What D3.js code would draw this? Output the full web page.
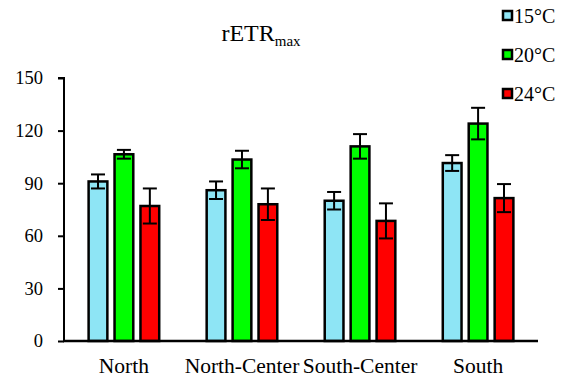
<!DOCTYPE html>
<html lang="en">
  <head>
    <meta charset="utf-8" />
    <title>rETRmax</title>
    <script src="https://d3js.org/d3.v7.min.js"></script>
    <style>
      body { margin: 0; background: #fff; }
      svg text { font-family: "Liberation Serif", "Times New Roman", serif; fill: #000; }
    </style>
  </head>
  <body>
    <div id="chart"></div>
    <script>
      // data
      const regions = ["North", "North-Center", "South-Center", "South"];
      const temps = ["15°C", "20°C", "24°C"];
      const mean15 = [91, 86, 80, 101.5];
      const err15 = [4, 5, 5, 4.5];
      const mean20 = [106.5, 103.5, 111, 124];
      const err20 = [2.5, 5, 7, 9];
      const mean24 = [77, 78, 68.5, 81.5];
      const err24 = [10, 9, 10, 8];
      const yTicks = [0, 30, 60, 90, 120, 150];
      const colors = ["#8ee5f5", "#00ff00", "#ff0000"];

      const means = [mean15, mean20, mean24];
      const errs = [err15, err20, err24];

      const cW = 566, cH = 381;
      const pLeft = 64, pRight = 538, pTop = 78, pBottom = 341;
      const serif = "'Liberation Serif', 'Times New Roman', serif";

      const svg = d3.select("#chart").append("svg")
        .attr("width", cW).attr("height", cH)
        .attr("font-family", serif);

      const x0 = d3.scaleBand().domain(regions).range([pLeft, pRight])
        .paddingInner(0.385).paddingOuter(0.2);
      const x1 = d3.scaleBand().domain(temps).range([0, x0.bandwidth()])
        .paddingInner(0.2);
      const y = d3.scaleLinear().domain([0, 150]).range([pBottom, pTop]);

      // title
      const title = svg.append("text")
        .attr("x", 261).attr("y", 41)
        .attr("text-anchor", "middle")
        .attr("font-size", 24);
      title.append("tspan").text("rETR");
      title.append("tspan").attr("dy", 5).attr("font-size", 15).text("max");

      // y axis
      const yAxis = svg.append("g")
        .attr("transform", `translate(${pLeft},0)`)
        .call(d3.axisLeft(y).tickValues(yTicks).tickSize(6).tickPadding(15))
        .attr("font-family", serif)
        .attr("font-size", 18.5);
      yAxis.select(".domain").attr("d", `M-6,${pTop}H0V${pBottom}`).attr("stroke-width", 2);
      yAxis.selectAll(".tick line").attr("stroke-width", 2);

      // bars
      const rows = [];
      regions.forEach((r, i) => {
        temps.forEach((t, j) => {
          rows.push({ region: r, temp: t, j: j, v: means[j][i], e: errs[j][i] });
        });
      });

      const g = svg.append("g");
      g.selectAll("rect").data(rows).enter().append("rect")
        .attr("x", d => x0(d.region) + x1(d.temp) + 1)
        .attr("y", d => y(d.v))
        .attr("width", x1.bandwidth() - 2)
        .attr("height", d => y(0) - y(d.v))
        .attr("fill", d => colors[d.j])
        .attr("stroke", "#000")
        .attr("stroke-width", 2.5);

      // error bars
      const cap = 7;
      const eb = svg.append("g").attr("stroke", "#000").attr("stroke-width", 2);
      rows.forEach(d => {
        const cx = x0(d.region) + x1(d.temp) + x1.bandwidth() / 2;
        eb.append("line").attr("x1", cx).attr("x2", cx)
          .attr("y1", y(d.v + d.e)).attr("y2", y(d.v - d.e));
        eb.append("line").attr("x1", cx - cap).attr("x2", cx + cap)
          .attr("y1", y(d.v + d.e)).attr("y2", y(d.v + d.e));
        eb.append("line").attr("x1", cx - cap).attr("x2", cx + cap)
          .attr("y1", y(d.v - d.e)).attr("y2", y(d.v - d.e));
      });

      // x axis
      const xAxis = svg.append("g")
        .attr("transform", `translate(0,${pBottom})`)
        .call(d3.axisBottom(x0).tickSize(0).tickPadding(17))
        .attr("font-family", serif)
        .attr("font-size", 21.5);
      xAxis.select(".domain").attr("d", `M${pLeft - 1},0H${pRight}`).attr("stroke-width", 2.5);

      // legend
      const lg = svg.append("g").attr("transform", "translate(503,0)");
      temps.forEach((t, j) => {
        const yy = 16 + j * 39;
        lg.append("rect")
          .attr("x", 0).attr("y", yy - 5)
          .attr("width", 9).attr("height", 9)
          .attr("fill", colors[j]).attr("stroke", "#000").attr("stroke-width", 2.5);
        lg.append("text").attr("x", 11).attr("y", yy + 7)
          .attr("font-size", 20).text(t);
      });
    </script>
  </body>
</html>
